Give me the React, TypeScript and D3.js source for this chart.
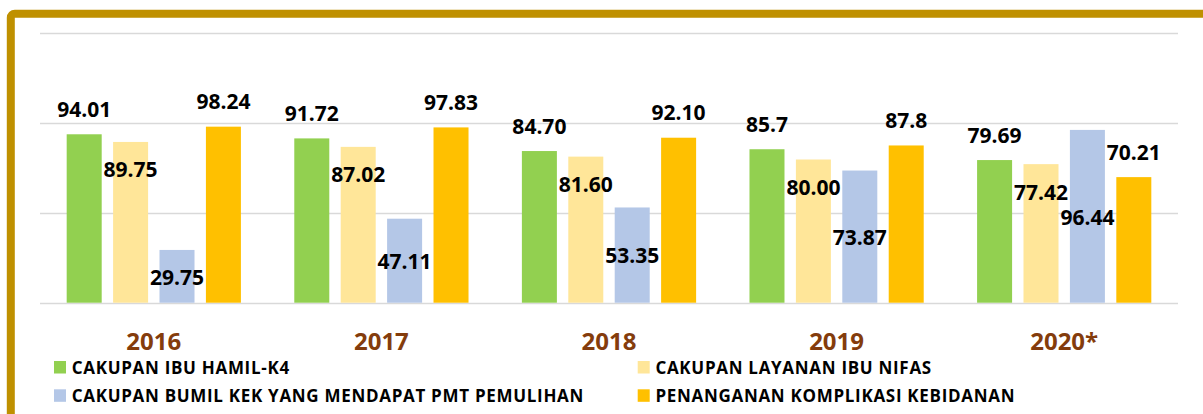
import React from "react";
import * as d3 from "d3";

const years = ["2016", "2017", "2018", "2019", "2020*"];
const seriesNames = [
  "CAKUPAN IBU HAMIL-K4",
  "CAKUPAN LAYANAN IBU NIFAS",
  "CAKUPAN BUMIL KEK YANG MENDAPAT PMT PEMULIHAN",
  "PENANGANAN KOMPLIKASI KEBIDANAN",
];
const hamilK4 = [94.01, 91.72, 84.7, 85.7, 79.69];
const hamilK4Labels = ["94.01", "91.72", "84.70", "85.7", "79.69"];
const nifas = [89.75, 87.02, 81.6, 80.0, 77.42];
const nifasLabels = ["89.75", "87.02", "81.60", "80.00", "77.42"];
const bumilKek = [29.75, 47.11, 53.35, 73.87, 96.44];
const bumilKekLabels = ["29.75", "47.11", "53.35", "73.87", "96.44"];
const komplikasi = [98.24, 97.83, 92.1, 87.8, 70.21];
const komplikasiLabels = ["98.24", "97.83", "92.10", "87.8", "70.21"];
const yTicks = [0, 50, 100, 150];

const colors = ["#92D050", "#FFE699", "#B4C7E7", "#FFC000"];
const labelModes = ["outside", "insideEnd", "center", "outside"];

const seriesValues = [hamilK4, nifas, bumilKek, komplikasi];
const seriesLabels = [hamilK4Labels, nifasLabels, bumilKekLabels, komplikasiLabels];

const W = 1203;
const H = 414;
const plotLeft = 40;
const plotRight = 1178;
const yTopPx = 33.5;
const yBottomPx = 303.5;
const FONT = "'Open Sans', 'DejaVu Sans', sans-serif";

export default function App() {
  const x0 = d3.scaleBand<string>().domain(years).range([plotLeft, plotRight]).padding(0);
  const x1 = d3
    .scaleBand<string>()
    .domain(seriesNames)
    .range([0, x0.bandwidth()])
    .paddingInner(0.2457)
    .paddingOuter(0.575);
  const y = d3.scaleLinear().domain([0, 150]).range([yBottomPx, yTopPx]);

  const legendItems = [
    { name: seriesNames[0], color: colors[0], x: 54, y: 374 },
    { name: seriesNames[1], color: colors[1], x: 637.7, y: 374 },
    { name: seriesNames[2], color: colors[2], x: 54, y: 402.3 },
    { name: seriesNames[3], color: colors[3], x: 637.7, y: 402.3 },
  ];

  return (
    <div style={{ position: "fixed", left: 0, top: 0 }}>
      <svg width={W} height={H} style={{ display: "block", background: "#fff" }}>
        <rect x={10.8} y={13.7} width={1400} height={600} rx={4} fill="none" stroke="#BF9000" strokeWidth={8} />
        {yTicks.map((t) => (
          <line key={t} x1={plotLeft} x2={plotRight} y1={y(t)} y2={y(t)} stroke="#D9D9D9" strokeWidth={1.6} />
        ))}
        {years.map((yr, i) => (
          <g key={yr} transform={`translate(${x0(yr)},0)`}>
            {seriesNames.map((s, j) => {
              const v = seriesValues[j][i];
              const bx = x1(s)!;
              const bw = x1.bandwidth();
              const top = y(v);
              const bottom = y(0);
              return (
                <rect key={s} x={bx} y={top} width={bw} height={bottom - top - 0.8} fill={colors[j]} />
              );
            })}
          </g>
        ))}
        {years.map((yr, i) => (
          <g key={yr + "l"} transform={`translate(${x0(yr)},0)`}>
            {seriesNames.map((s, j) => {
              const v = seriesValues[j][i];
              const cx = x1(s)! + x1.bandwidth() / 2;
              const top = y(v);
              const bottom = y(0);
              const mode = labelModes[j];
              let by = top - 17.5;
              if (mode === "insideEnd") by = top + 35.5;
              if (mode === "center") by = (top + bottom) / 2 + 7.8;
              return (
                <text
                  key={s}
                  x={cx}
                  y={by}
                  textAnchor="middle"
                  fontFamily={FONT}
                  fontWeight={700}
                  fontSize={21}
                  fill="#000"
                >
                  {seriesLabels[j][i]}
                </text>
              );
            })}
          </g>
        ))}
        {years.map((yr) => (
          <text
            key={yr + "y"}
            x={x0(yr)! + x0.bandwidth() / 2}
            y={350}
            textAnchor="middle"
            fontFamily={FONT}
            fontWeight={700}
            fontSize={24}
            fill="#843C0C"
          >
            {yr}
          </text>
        ))}
        {legendItems.map((it) => (
          <g key={it.name}>
            <rect x={it.x} y={it.y - 13} width={12} height={12.5} fill={it.color} />
            <text
              x={it.x + 17.7}
              y={it.y}
              fontFamily={FONT}
              fontWeight={700}
              fontSize={17}
              letterSpacing={0.7}
              fill="#000"
            >
              {it.name}
            </text>
          </g>
        ))}
      </svg>
    </div>
  );
}
